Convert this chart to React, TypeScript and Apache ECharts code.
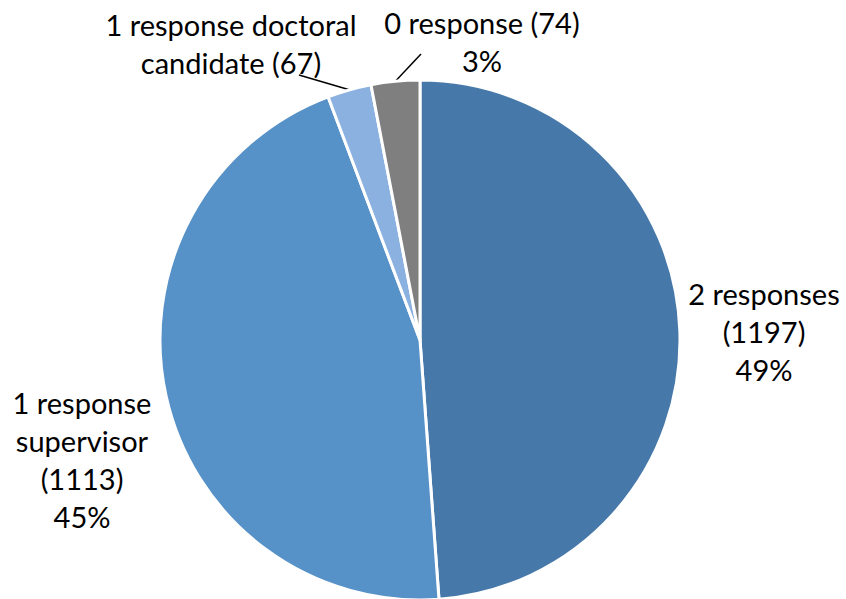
import React, { useEffect, useRef } from "react";
import * as echarts from "echarts";

const categories = [
  "2 responses",
  "1 response supervisor",
  "1 response doctoral candidate",
  "0 response",
];
const values = [1197, 1113, 67, 74];
const colors = ["#4679A9", "#5691C8", "#8AB1E0", "#7F7F7F"];

// label anchor centres (layout only)
const labelPos: [number, number][] = [
  [764, 331],
  [82, 459],
  [231, 43],
  [482, 41],
];
const lineEnds: ([number, number] | null)[] = [null, null, [299, 75], [421, 54]];

export default function App() {
  const ref = useRef<HTMLDivElement>(null);
  useEffect(() => {
    document.body.style.margin = "0";
    const chart = echarts.init(ref.current!, null, { renderer: "svg" });
    const fmt = (p: any) => {
      const i = p.dataIndex;
      if (i === 0) return `2 responses\n(${p.value})\n${p.percent}%`;
      if (i === 1) return `1 response\nsupervisor\n(${p.value})\n${p.percent}%`;
      if (i === 2) return `1 response doctoral\ncandidate (${p.value})`;
      return `0 response (${p.value})\n${p.percent}%`;
    };
    chart.setOption({
      animation: false,
      backgroundColor: "#ffffff",
      series: [
        {
          type: "pie",
          center: [420, 340],
          radius: 260,
          startAngle: 90,
          clockwise: true,
          percentPrecision: 0,
          avoidLabelOverlap: false,
          itemStyle: { borderColor: "#ffffff", borderWidth: 3 },
          label: {
            show: true,
            position: "outside",
            formatter: fmt,
            color: "#000000",
            fontFamily: "Lato",
            fontSize: 29,
            lineHeight: 38,
            align: "center",
          },
          labelLine: {
            show: true,
            length: 20,
            length2: 10,
            lineStyle: { color: "#000000", width: 1.5 },
          },
          emphasis: { disabled: true },
          labelLayout: (params: any) => {
            const i = params.dataIndex;
            const [x, y] = labelPos[i];
            const out: any = { x, y, align: "center", verticalAlign: "middle" };
            const end = lineEnds[i];
            if (end && params.labelLinePoints) {
              const s = params.labelLinePoints[0];
              out.labelLinePoints = [s, end, end];
            }
            return out;
          },
          data: categories.map((name, i) => ({
            name,
            value: values[i],
            itemStyle: { color: colors[i] },
            labelLine: { show: i >= 2 },
          })),
        },
      ],
    });
    return () => chart.dispose();
  }, []);
  return <div ref={ref} style={{ width: 846, height: 599 }} />;
}
